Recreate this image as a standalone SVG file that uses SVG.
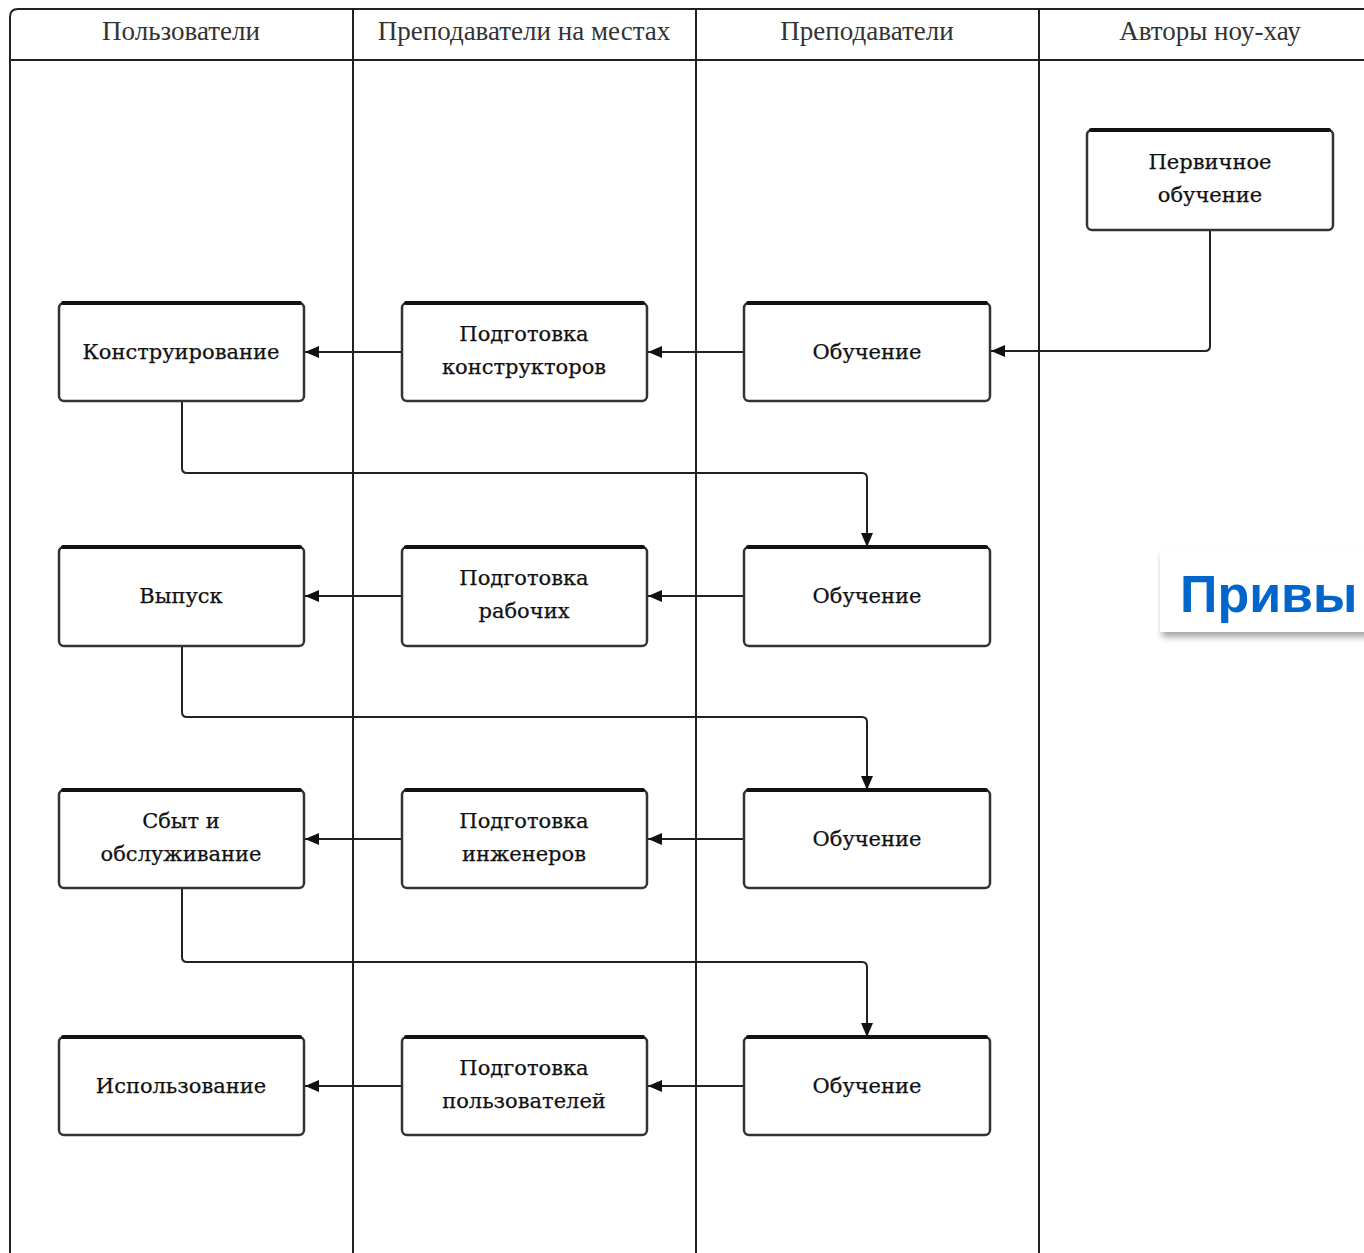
<svg xmlns="http://www.w3.org/2000/svg" width="1364" height="1253" viewBox="0 0 1364 1253">
<defs>
<style>
.lane{fill:none;stroke:#222;stroke-width:2}
.hdr{font-family:"Liberation Serif",serif;font-size:27px;fill:#333;text-anchor:middle}
.box{fill:#fff;stroke:#333;stroke-width:2.5}
.top{fill:none;stroke:#111;stroke-width:4;stroke-linecap:round}
.lbl{font-family:"DejaVu Serif",serif;font-size:21px;fill:#111;stroke:#111;stroke-width:0.25;text-anchor:middle}
.edge{fill:none;stroke:#222;stroke-width:2}
</style>
<marker id="ah" viewBox="0 0 14 12" refX="14" refY="6" markerWidth="14" markerHeight="12" markerUnits="userSpaceOnUse" orient="auto">
<path d="M0,0 L14,6 L0,12 Z" fill="#111"/>
</marker>
<filter id="sh" x="-10%" y="-10%" width="130%" height="140%">
<feDropShadow dx="2" dy="5" stdDeviation="3" flood-color="#000" flood-opacity="0.35"/>
</filter>
</defs>
<rect width="1364" height="1253" fill="#fff"/>
<g id="lanes">
<path class="lane" d="M10,1253 V17 Q10,9 18,9 H1364"/>
<line class="lane" x1="10" y1="60" x2="1364" y2="60"/>
<line class="lane" x1="353" y1="9" x2="353" y2="1253"/>
<line class="lane" x1="696" y1="9" x2="696" y2="1253"/>
<line class="lane" x1="1039" y1="9" x2="1039" y2="1253"/>
<text class="hdr" x="181" y="40">Пользователи</text>
<text class="hdr" x="524" y="40">Преподаватели на местах</text>
<text class="hdr" x="867" y="40">Преподаватели</text>
<text class="hdr" x="1210" y="40">Авторы ноу-хау</text>
</g>
<g id="edges">
<line class="edge" x1="744" y1="352" x2="648" y2="352" marker-end="url(#ah)"/>
<line class="edge" x1="402" y1="352" x2="305" y2="352" marker-end="url(#ah)"/>
<line class="edge" x1="744" y1="596" x2="648" y2="596" marker-end="url(#ah)"/>
<line class="edge" x1="402" y1="596" x2="305" y2="596" marker-end="url(#ah)"/>
<line class="edge" x1="744" y1="839" x2="648" y2="839" marker-end="url(#ah)"/>
<line class="edge" x1="402" y1="839" x2="305" y2="839" marker-end="url(#ah)"/>
<line class="edge" x1="744" y1="1086" x2="648" y2="1086" marker-end="url(#ah)"/>
<line class="edge" x1="402" y1="1086" x2="305" y2="1086" marker-end="url(#ah)"/>
<path class="edge" d="M1210,230 V346 Q1210,351 1205,351 H991" marker-end="url(#ah)"/>
<path class="edge" d="M182,401 V468 Q182,473 187,473 H862 Q867,473 867,478 V547" marker-end="url(#ah)"/>
<path class="edge" d="M182,646 V712 Q182,717 187,717 H862 Q867,717 867,722 V790" marker-end="url(#ah)"/>
<path class="edge" d="M182,888 V957 Q182,962 187,962 H862 Q867,962 867,967 V1037" marker-end="url(#ah)"/>
</g>
<g id="n-pervichnoe"><rect class="box" x="1087" y="130" width="246" height="100" rx="5"/><path class="top" d="M1091,130 H1329"/><text class="lbl" x="1210" y="169">Первичное</text><text class="lbl" x="1210" y="202">обучение</text></g>
<g id="n-konstr"><rect class="box" x="59" y="303" width="245" height="98" rx="5"/><path class="top" d="M63,303 H300"/><text class="lbl" x="181" y="359">Конструирование</text></g>
<g id="n-podg-konstr"><rect class="box" x="402" y="303" width="245" height="98" rx="5"/><path class="top" d="M406,303 H643"/><text class="lbl" x="524" y="341">Подготовка</text><text class="lbl" x="524" y="374">конструкторов</text></g>
<g id="n-obuch1"><rect class="box" x="744" y="303" width="246" height="98" rx="5"/><path class="top" d="M748,303 H986"/><text class="lbl" x="867" y="359">Обучение</text></g>
<g id="n-vypusk"><rect class="box" x="59" y="547" width="245" height="99" rx="5"/><path class="top" d="M63,547 H300"/><text class="lbl" x="181" y="603">Выпуск</text></g>
<g id="n-podg-rab"><rect class="box" x="402" y="547" width="245" height="99" rx="5"/><path class="top" d="M406,547 H643"/><text class="lbl" x="524" y="585">Подготовка</text><text class="lbl" x="524" y="618">рабочих</text></g>
<g id="n-obuch2"><rect class="box" x="744" y="547" width="246" height="99" rx="5"/><path class="top" d="M748,547 H986"/><text class="lbl" x="867" y="603">Обучение</text></g>
<g id="n-sbyt"><rect class="box" x="59" y="790" width="245" height="98" rx="5"/><path class="top" d="M63,790 H300"/><text class="lbl" x="181" y="828">Сбыт и</text><text class="lbl" x="181" y="861">обслуживание</text></g>
<g id="n-podg-ing"><rect class="box" x="402" y="790" width="245" height="98" rx="5"/><path class="top" d="M406,790 H643"/><text class="lbl" x="524" y="828">Подготовка</text><text class="lbl" x="524" y="861">инженеров</text></g>
<g id="n-obuch3"><rect class="box" x="744" y="790" width="246" height="98" rx="5"/><path class="top" d="M748,790 H986"/><text class="lbl" x="867" y="846">Обучение</text></g>
<g id="n-ispolz"><rect class="box" x="59" y="1037" width="245" height="98" rx="5"/><path class="top" d="M63,1037 H300"/><text class="lbl" x="181" y="1093">Использование</text></g>
<g id="n-podg-polz"><rect class="box" x="402" y="1037" width="245" height="98" rx="5"/><path class="top" d="M406,1037 H643"/><text class="lbl" x="524" y="1075">Подготовка</text><text class="lbl" x="524" y="1108">пользователей</text></g>
<g id="n-obuch4"><rect class="box" x="744" y="1037" width="246" height="98" rx="5"/><path class="top" d="M748,1037 H986"/><text class="lbl" x="867" y="1093">Обучение</text></g>
<g id="privy">
<rect x="1160" y="550" width="214" height="82" fill="#fff" filter="url(#sh)"/>
<text x="1180" y="612" font-family="Liberation Sans, sans-serif" font-weight="bold" font-size="52" fill="#0066CC">Привы</text>
</g>
</svg>
